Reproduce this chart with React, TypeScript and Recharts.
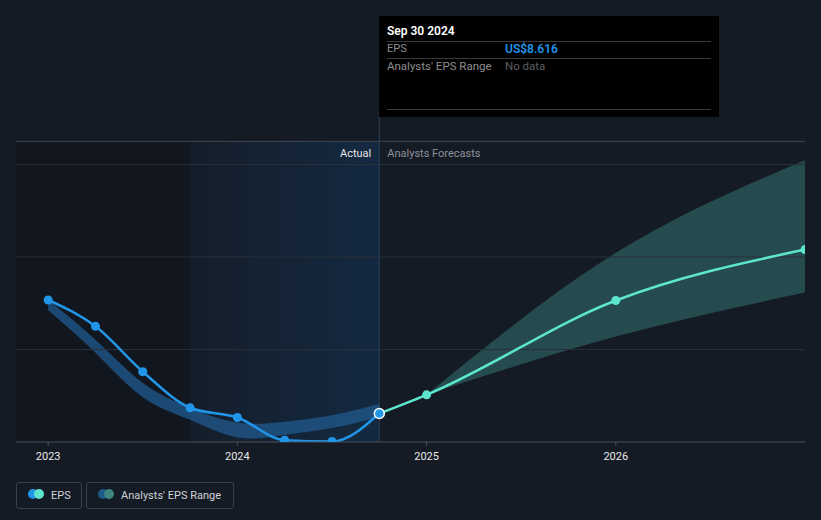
import React from 'react';
import {
  ComposedChart,
  Line,
  Area,
  XAxis,
  YAxis,
  ReferenceArea,
  ReferenceLine,
} from 'recharts';

// palette
const BG = '#151b25';
const BLUE = '#2196e8';
const TEAL = '#5de6cd';
const GRID = '#2a3039';
const AXIS = '#4b5058';
const FS = 11;

// actual EPS, quarterly
const quarters = [2023, 2023.25, 2023.5, 2023.75, 2024, 2024.25, 2024.5, 2024.75];
const epsActual = [11.07, 10.5, 9.52, 8.74, 8.53, 8.04, 8.01, 8.616];
const pastLow = [10.85, 9.93, 8.97, 8.48, 8.1, 8.15, 8.3, 8.54];
const pastHigh = [11.07, 10.21, 9.28, 8.74, 8.42, 8.44, 8.58, 8.82];

// analyst forecasts
const forecastYears = [2024.75, 2025, 2026, 2027];
const epsForecast = [8.616, 9.02, 11.06, 12.16];
const fcLow: (number | null)[] = [null, 9.02, 10.28, 11.23];
const fcHigh: (number | null)[] = [null, 9.02, 12.09, 14.09];

const yearTicks = [2023, 2024, 2025, 2026];
const yLabelTicks = [8, 14.5];
const gridValues = [10, 12, 14];

type Row = {
  t: number;
  eps?: number;
  fc?: number;
  past?: [number, number];
  range?: [number, number];
};

const rows: Row[] = [];
quarters.forEach((t, i) => {
  rows.push({ t, eps: epsActual[i], past: [pastLow[i], pastHigh[i]] });
});
forecastYears.forEach((t, i) => {
  let row = rows.find((r) => r.t === t);
  if (!row) {
    row = { t };
    rows.push(row);
  }
  row.fc = epsForecast[i];
  const lo = fcLow[i];
  const hi = fcHigh[i];
  if (lo != null && hi != null) row.range = [lo, hi];
});

const PLOT_LEFT = 16;

function YTick(props: any) {
  const { y, payload } = props;
  const label = payload.value === 8 ? 'US$8' : 'US$15';
  return (
    <text x={PLOT_LEFT + 8} y={y - 12} fill="#e8e8e8" fontSize={FS} dominantBaseline="middle">
      {label}
    </text>
  );
}

function actualDot(p: any) {
  const { cx, cy, payload, index } = p;
  if (cx == null || cy == null || payload.eps == null) return <g key={`a-${index}`} />;
  if (payload.t === 2024.75) {
    return <circle key={`a-${index}`} cx={cx} cy={cy} r={5} fill={BLUE} stroke="#fff" strokeWidth={1.5} />;
  }
  return <circle key={`a-${index}`} cx={cx} cy={cy} r={4.5} fill={BLUE} />;
}

function forecastDot(p: any) {
  const { cx, cy, payload, index } = p;
  if (cx == null || cy == null || payload.fc == null || payload.t === 2024.75) return <g key={`f-${index}`} />;
  return <circle key={`f-${index}`} cx={cx} cy={cy} r={4.5} fill={TEAL} />;
}

function PeriodLabels(props: any) {
  const { viewBox } = props;
  const edge = viewBox.x + viewBox.width;
  const y = viewBox.y + 13;
  return (
    <g fontSize={FS}>
      <text x={edge - 8} y={y} textAnchor="end" fill="#e6e6e6" dominantBaseline="middle">
        Actual
      </text>
      <text x={edge + 8} y={y} textAnchor="start" fill="#8b9097" dominantBaseline="middle">
        Analysts Forecasts
      </text>
    </g>
  );
}

const legendBox: React.CSSProperties = {
  position: 'absolute',
  top: 482,
  height: 27,
  border: '1px solid #3a3f48',
  borderRadius: 3,
  display: 'flex',
  alignItems: 'center',
  fontSize: FS,
  color: '#cfd3d8',
  boxSizing: 'border-box',
};

function Dots({ a, b }: { a: string; b: string }) {
  return (
    <span style={{ position: 'relative', width: 18, height: 10, display: 'inline-block' }}>
      <span style={{ position: 'absolute', left: 0, top: 0, width: 10, height: 10, borderRadius: 5, background: a }} />
      <span style={{ position: 'absolute', left: 6, top: 0, width: 10, height: 10, borderRadius: 5, background: b }} />
    </span>
  );
}

export default function App() {
  return (
    <div
      style={{
        position: 'absolute',
        left: 0,
        top: 0,
        width: 821,
        height: 520,
        background: BG,
        fontFamily: 'Roboto, "Noto Sans", sans-serif',
        overflow: 'hidden',
      }}
    >
      <ComposedChart
        width={821}
        height={470}
        data={rows}
        margin={{ top: 16, right: 16, bottom: 0, left: PLOT_LEFT }}
      >
        <defs>
          <linearGradient id="pastShade" x1="0" y1="0" x2="1" y2="0">
            <stop offset="0%" stopColor="#10508c" stopOpacity={0.05} />
            <stop offset="100%" stopColor="#10508c" stopOpacity={0.27} />
          </linearGradient>
        </defs>
        <XAxis
          dataKey="t"
          type="number"
          domain={[2022.83, 2027]}
          ticks={yearTicks}
          allowDataOverflow
          height={28}
          stroke={AXIS}
          tickSize={4}
          tickMargin={6}
          tick={{ fill: '#e8e8e8', fontSize: FS }}
          tickFormatter={(v) => String(v)}
        />
        <YAxis
          type="number"
          domain={[8, 17.21]}
          ticks={yLabelTicks}
          width={0}
          axisLine={false}
          tickLine={false}
          tick={<YTick />}
          allowDataOverflow
        />
        <ReferenceArea x1={2022.83} x2={2023.75} y1={8} y2={14.5} fill="#12161e" fillOpacity={1} stroke="none" />
        <ReferenceArea
          x1={2023.75}
          x2={2024.75}
          y1={8}
          y2={14.5}
          fill="url(#pastShade)"
          fillOpacity={1}
          stroke="none"
          label={<PeriodLabels />}
        />
        {gridValues.map((v) => (
          <ReferenceLine key={v} y={v} stroke={GRID} strokeWidth={1} />
        ))}
        <ReferenceLine y={14.5} stroke="#41464f" strokeWidth={1} />
        <ReferenceLine x={2024.75} stroke="#2b4054" strokeWidth={1} />
        <Area
          dataKey="past"
          type="natural"
          stroke="none"
          fill="#1f5688"
          fillOpacity={0.8}
          isAnimationActive={false}
          connectNulls={false}
        />
        <Area
          dataKey="range"
          type="monotone"
          stroke="none"
          fill="#44a69a"
          fillOpacity={0.35}
          isAnimationActive={false}
          connectNulls={false}
        />
        <Line
          dataKey="fc"
          type="monotone"
          stroke={TEAL}
          strokeWidth={2.5}
          dot={forecastDot}
          activeDot={false}
          isAnimationActive={false}
        />
        <Line
          dataKey="eps"
          type="monotone"
          stroke={BLUE}
          strokeWidth={2.5}
          dot={actualDot}
          activeDot={false}
          isAnimationActive={false}
        />
      </ComposedChart>

      {/* tooltip panel */}
      <div
        style={{
          position: 'absolute',
          left: 379,
          top: 16,
          width: 340,
          height: 101,
          background: '#000',
          fontSize: FS + 1,
        }}
      >
        <div style={{ position: 'absolute', left: 8, top: 8, color: '#fff', fontWeight: 600, fontSize: FS + 1 }}>
          Sep 30 2024
        </div>
        <div style={{ position: 'absolute', left: 8, right: 8, top: 25, borderTop: '1px solid #3a3a3a' }} />
        <div style={{ position: 'absolute', left: 8, top: 26, color: '#8c8c8c', fontSize: FS }}>EPS</div>
        <div style={{ position: 'absolute', left: 126, top: 26, color: BLUE, fontWeight: 600, fontSize: FS + 1 }}>
          US$8.616
        </div>
        <div style={{ position: 'absolute', left: 8, right: 8, top: 42, borderTop: '1px solid #3a3a3a' }} />
        <div style={{ position: 'absolute', left: 8, top: 43, color: '#8c8c8c', fontSize: FS + 0.5 }}>
          Analysts' EPS Range
        </div>
        <div style={{ position: 'absolute', left: 126, top: 43, color: '#5c5f63', fontSize: FS + 0.5 }}>No data</div>
        <div style={{ position: 'absolute', left: 8, right: 8, top: 93, borderTop: '1px solid #3a3a3a' }} />
      </div>

      {/* legend */}
      <div style={{ ...legendBox, left: 16, width: 66 }}>
        <span style={{ marginLeft: 11 }}>
          <Dots a={BLUE} b={TEAL} />
        </span>
        <span style={{ marginLeft: 5 }}>EPS</span>
      </div>
      <div style={{ ...legendBox, left: 86, width: 148 }}>
        <span style={{ marginLeft: 11 }}>
          <Dots a="#1f5a87" b="#3d8580" />
        </span>
        <span style={{ marginLeft: 5 }}>Analysts' EPS Range</span>
      </div>
    </div>
  );
}
